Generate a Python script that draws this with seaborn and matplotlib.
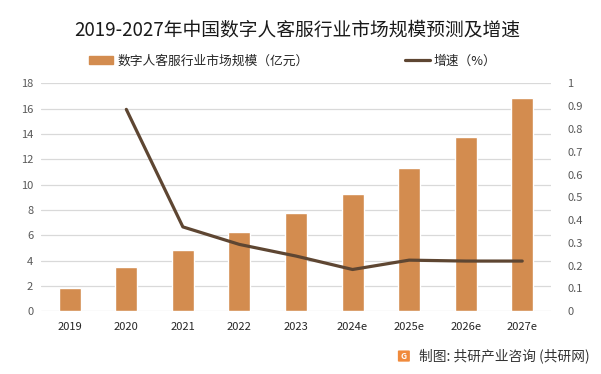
import matplotlib
matplotlib.use("Agg")
import matplotlib.pyplot as plt
import seaborn as sns
import numpy as np
import pandas as pd
from matplotlib.patches import FancyBboxPatch
from matplotlib.lines import Line2D
from matplotlib.patches import Patch

# data
years = ["2019", "2020", "2021", "2022", "2023", "2024e", "2025e", "2026e", "2027e"]
market_size = [1.84, 3.47, 4.81, 6.23, 7.73, 9.23, 11.29, 13.73, 16.81]
growth = [None, 0.886, 0.370, 0.293, 0.242, 0.183, 0.224, 0.220, 0.220]

bar_color = "#D38C4F"
line_color = "#5E4632"
tick_color = "#595959"

sns.set_style("white")
plt.rcParams["font.family"] = ["Noto Sans CJK SC", "DejaVu Sans"]

df = pd.DataFrame({"year": years, "size": market_size, "growth": growth})
df["idx"] = np.arange(len(df))

fig = plt.figure(figsize=(6.01, 3.74), dpi=100)
ax = fig.add_axes([0.069, 0.168, 0.847, 0.609])

sns.barplot(data=df, x="year", y="size", color=bar_color, width=0.39,
            saturation=1, ax=ax, zorder=3)
ax.set_ylim(0, 18)
ax.set_yticks(range(0, 19, 2))
ax.set_xlim(-0.5, len(years) - 0.5)
ax.yaxis.grid(True, color="#D9D9D9", linewidth=0.9, zorder=0)
ax.set_axisbelow(True)
ax.set_xlabel("")
ax.set_ylabel("")
for s in ax.spines.values():
    s.set_visible(False)
ax.tick_params(axis="both", length=0, labelsize=8, colors=tick_color, pad=6)
ax.tick_params(axis="x", colors="#262626", pad=8)

ax2 = ax.twinx()
sns.lineplot(data=df.dropna(), x="idx", y="growth", color=line_color, linewidth=2.3,
             ax=ax2, zorder=4)
ax2.set_ylim(0, 1)
ax2.set_yticks(np.arange(0, 1.01, 0.1))
ax2.set_yticklabels(["0", "0.1", "0.2", "0.3", "0.4", "0.5", "0.6", "0.7", "0.8", "0.9", "1"])
ax2.set_xlim(-0.5, len(years) - 0.5)
ax2.set_ylabel("")
ax2.set_xlabel("")
for s in ax2.spines.values():
    s.set_visible(False)
ax2.tick_params(axis="y", length=0, labelsize=8, colors=tick_color, pad=12)

fig.text(0.495, 0.92, "2019-2027年中国数字人客服行业市场规模预测及增速",
         ha="center", va="center", fontsize=13.5, color="#1A1A1A")

handles = [Patch(color=bar_color), Line2D([0], [0], color=line_color, linewidth=2.3)]
labels = ["数字人客服行业市场规模（亿元）", "增速（%）"]
fig.legend(handles, labels, loc="center", bbox_to_anchor=(0.487, 0.837), ncol=2,
           frameon=False, fontsize=9.2, handlelength=1.9, handleheight=0.55,
           handletextpad=0.3, columnspacing=7.6, labelcolor="#262626")

# footer
logo = FancyBboxPatch((0.664, 0.035), 0.016, 0.026, boxstyle="round,pad=0.002",
                      transform=fig.transFigure, facecolor="#F08A3C", edgecolor="none")
fig.patches.append(logo)
fig.text(0.672, 0.048, "G", ha="center", va="center", fontsize=6, color="white",
         fontweight="bold")
fig.text(0.697, 0.048, "制图: 共研产业咨询 (共研网)", ha="left", va="center",
         fontsize=9.9, color="#333333")

fig.savefig("out.png", dpi=100)
